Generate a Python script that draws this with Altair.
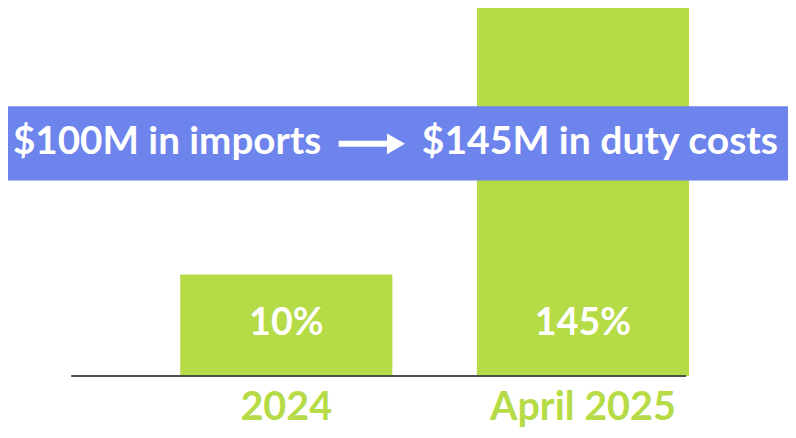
import altair as alt
import pandas as pd

# Data
categories = ["2024", "April 2025"]
bar_heights = [27.2, 100.0]          # relative bar heights
rate_labels = ["10%", "145%"]
banner_left = "$100M in imports"
banner_right = "$145M in duty costs"

GREEN = "#b5db46"
BLUE = "#6d84ed"
FONT = "Lato"

df = pd.DataFrame({"cat": categories, "h": bar_heights, "lab": rate_labels})

xscale = alt.Scale(domain=categories, range=[174, 688], paddingInner=0.285, paddingOuter=0)
yscale = alt.Scale(domain=[0, 100], range=[369.5, -7], nice=False, zero=True)

x_enc = alt.X("cat:N", scale=xscale, axis=None, sort=categories)

bars = alt.Chart(df).mark_bar(color=GREEN).encode(
    x=x_enc,
    y=alt.Y("h:Q", scale=yscale, axis=None),
)

rate_text = alt.Chart(df).mark_text(
    font=FONT, fontWeight="bold", fontSize=38, color="white", baseline="middle"
).encode(x=x_enc, y=alt.value(317), text="lab:N")

cat_text = alt.Chart(df).mark_text(
    font=FONT, fontWeight="bold", fontSize=40, color=GREEN, baseline="middle"
).encode(x=x_enc, y=alt.value(402), text="cat:N")

baseline = alt.Chart(df).mark_rule(color="#444444", strokeWidth=1.5).encode(
    x=alt.value(64), x2=alt.value(685), y=alt.value(369.5)
)

banner = alt.Chart(pd.DataFrame({"a": [0]})).mark_rect(color=BLUE).encode(
    x=alt.value(0), x2=alt.value(788), y=alt.value(97), y2=alt.value(172)
)

left_txt = alt.Chart(pd.DataFrame({"t": [banner_left]})).mark_text(
    font=FONT, fontWeight="bold", fontSize=39, color="white", align="left", baseline="middle"
).encode(x=alt.value(5), y=alt.value(133), text="t:N")

right_txt = alt.Chart(pd.DataFrame({"t": [banner_right]})).mark_text(
    font=FONT, fontWeight="bold", fontSize=39.5, color="white", align="left", baseline="middle"
).encode(x=alt.value(418), y=alt.value(133), text="t:N")

shaft = alt.Chart(pd.DataFrame({"a": [0]})).mark_rule(color="white", strokeWidth=6).encode(
    x=alt.value(334), x2=alt.value(387), y=alt.value(135)
)
head = alt.Chart(pd.DataFrame({"a": [0]})).mark_point(
    shape="triangle-right", filled=True, color="white", opacity=1, size=440
).encode(x=alt.value(392), y=alt.value(135))

chart = alt.layer(bars, baseline, banner, left_txt, right_txt, shaft, head, rate_text, cat_text).properties(
    width=788, height=430, padding=0, autosize=alt.AutoSizeParams(type="none")
).configure_view(stroke=None)

chart.save("out.html", embed_options={"renderer": "svg", "actions": False})
